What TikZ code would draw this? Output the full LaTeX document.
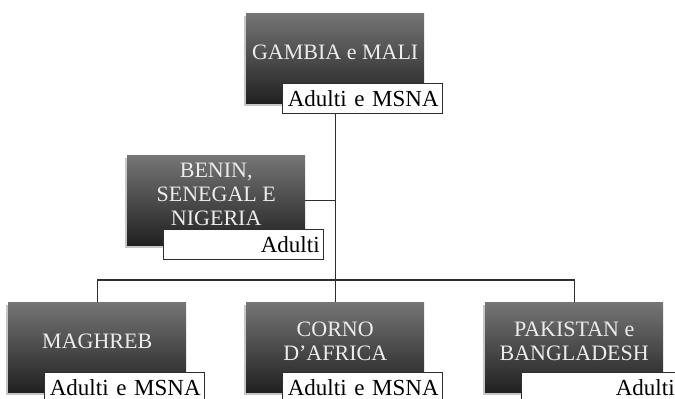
\documentclass[tikz,border=0pt]{standalone}
\usepackage{fontspec}
\setmainfont{Liberation Serif}
\usetikzlibrary{positioning,shadows}
\definecolor{boxtop}{gray}{0.46}
\definecolor{boxbot}{gray}{0.13}
\definecolor{linec}{gray}{0.18}
\tikzset{
	area/.style={minimum width=178pt, minimum height=90pt, inner sep=0pt,
		anchor=north west, top color=boxtop, bottom color=boxbot,
		drop shadow={opacity=.45, shadow xshift=-2pt, shadow yshift=-2.5pt},
		text=gray!15, align=center, text depth=11pt,
		font=\fontsize{22}{24}\selectfont},
	tag/.style={text width=152pt, inner xsep=4pt, inner ysep=0pt,
		minimum height=30pt, text height=15pt, text depth=0pt,
		draw=linec, line width=1.3pt, fill=white, align=right,
		font=\fontsize{23}{24}\selectfont},
	wire/.style={draw=linec, line width=1.4pt}
}
\begin{document}
\begin{tikzpicture}[x=1pt,y=-1pt]
	\clip (0,0) rectangle (675,399);
	\node[area] (gm) at (246,13) {GAMBIA e MALI};
	\node[area] (bn) at (127,155) {BENIN,\\SENEGAL E\\NIGERIA};
	\node[area] (ma) at (8,302) {MAGHREB};
	\node[area] (co) at (246,302) {CORNO\\D'AFRICA};
	\node[area] (pk) at (485,302) {PAKISTAN e\\BANGLADESH};
	\coordinate (bus) at (335,280);
	\draw[wire] (gm.south) -- (co.north);
	\draw[wire] (bn.east) -- (bn.east -| gm.south);
	\draw[wire] (ma.north) |- (bus) -| (pk.north);
	\node[tag, below right=70pt and 36pt of gm.north west] (gmt) {Adulti e MSNA};
	\node[tag, below right=74pt and 36pt of bn.north west] (bnt) {Adulti};
	\node[tag, below right=70pt and 36pt of ma.north west] (mat) {Adulti e MSNA};
	\node[tag, below right=70pt and 36pt of co.north west] (cot) {Adulti e MSNA};
	\node[tag, text width=149pt, below right=70pt and 36pt of pk.north west] (pkt) {Adulti};
\end{tikzpicture}
\end{document}
